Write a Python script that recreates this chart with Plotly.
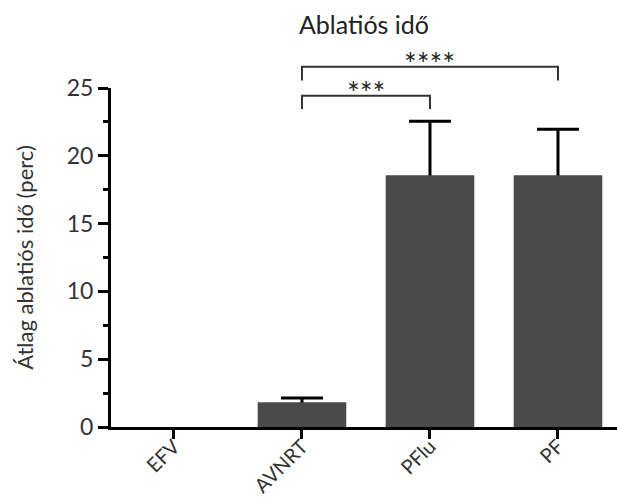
import plotly.graph_objects as go

categories = ["EFV", "AVNRT", "PFlu", "PF"]
means = [0, 1.8, 18.55, 18.55]
sem_up = [None, 0.33, 4.0, 3.4]

title_text = "Ablatiós idő"
y_title = "Átlag ablatiós idő (perc)"

# significance brackets: (left category, right category, bracket top, leg bottom, label)
brackets = [
    ("AVNRT", "PFlu", 24.43, 23.45, "***"),
    ("AVNRT", "PF", 26.57, 25.55, "****"),
]

FONT = "Lato"
BAR_COLOR = "#4a4a4a"
D = 339 / 387.0  # domain fraction of main y axis
fig = go.Figure()

# groups that have an error value
err_idx = [i for i, s in enumerate(sem_up) if s is not None]

# bars carrying the error bars (lower half hidden by the bars drawn on top)
fig.add_trace(go.Bar(
    x=[categories[i] for i in err_idx], y=[means[i] for i in err_idx], width=0.69,
    marker=dict(color=BAR_COLOR, line=dict(width=0)),
    error_y=dict(type="data", array=[sem_up[i] for i in err_idx], symmetric=True,
                 thickness=3, width=21, color="black"),
    xaxis="x", yaxis="y", showlegend=False,
))
fig.add_trace(go.Bar(
    x=categories, y=means, width=0.69,
    marker=dict(color=BAR_COLOR, line=dict(width=0)),
    xaxis="x", yaxis="y", showlegend=False, hoverinfo="skip",
))

for left, right, top, bottom, label in brackets:
    fig.add_trace(go.Scatter(
        x=[left, left, right, right], y=[bottom, top, top, bottom],
        mode="lines", line=dict(color="#333333", width=2),
        xaxis="x", yaxis="y2", showlegend=False, hoverinfo="skip",
    ))
    li, ri = categories.index(left), categories.index(right)
    fig.add_annotation(x=(li + ri) / 2, y=top, xref="x", yref="y2", text=label,
                       showarrow=False, yanchor="middle", yshift=4,
                       font=dict(family=FONT, size=30, color="#222"))

fig.update_layout(
    width=617, height=499, barmode="overlay",
    margin=dict(l=111, r=0, t=40, b=72, autoexpand=False),
    paper_bgcolor="white", plot_bgcolor="rgba(0,0,0,0)",
    font=dict(family=FONT, color="#333"),
    title=dict(text=title_text, x=0.5, xref="paper", y=1 - 25 / 499, yref="container",
               xanchor="center", yanchor="middle", font=dict(family=FONT, size=25, color="#222")),
    xaxis=dict(
        categoryorder="array", categoryarray=categories,
        range=[-0.492, 3.461], showline=True, linecolor="black", linewidth=3,
        ticks="outside", ticklen=9, tickwidth=3, tickcolor="black",
        tickangle=-45, tickfont=dict(family=FONT, size=20, color="#333"),
        ticklabelstandoff=-12,
        showgrid=False, zeroline=False, anchor="y", automargin=False,
    ),
    yaxis=dict(
        domain=[0, D], range=[0, 25], showline=True, linecolor="black", linewidth=3,
        ticks="outside", ticklen=10, tickwidth=3, tickcolor="black",
        tickvals=[0, 5, 10, 15, 20, 25],
        tickfont=dict(family=FONT, size=23, color="#333"),
        minor=dict(tickvals=[2.5, 7.5, 12.5, 17.5, 22.5], ticks="outside", ticklen=5,
                   tickwidth=3, tickcolor="black", showgrid=False),
        showgrid=False, zeroline=False, automargin=False,
        title=dict(text=y_title, font=dict(family=FONT, size=22, color="#333"), standoff=28),
    ),
    yaxis2=dict(domain=[0, 1], range=[0, 25 / D], visible=False, anchor="x"),
)

fig.write_html("out.html")
